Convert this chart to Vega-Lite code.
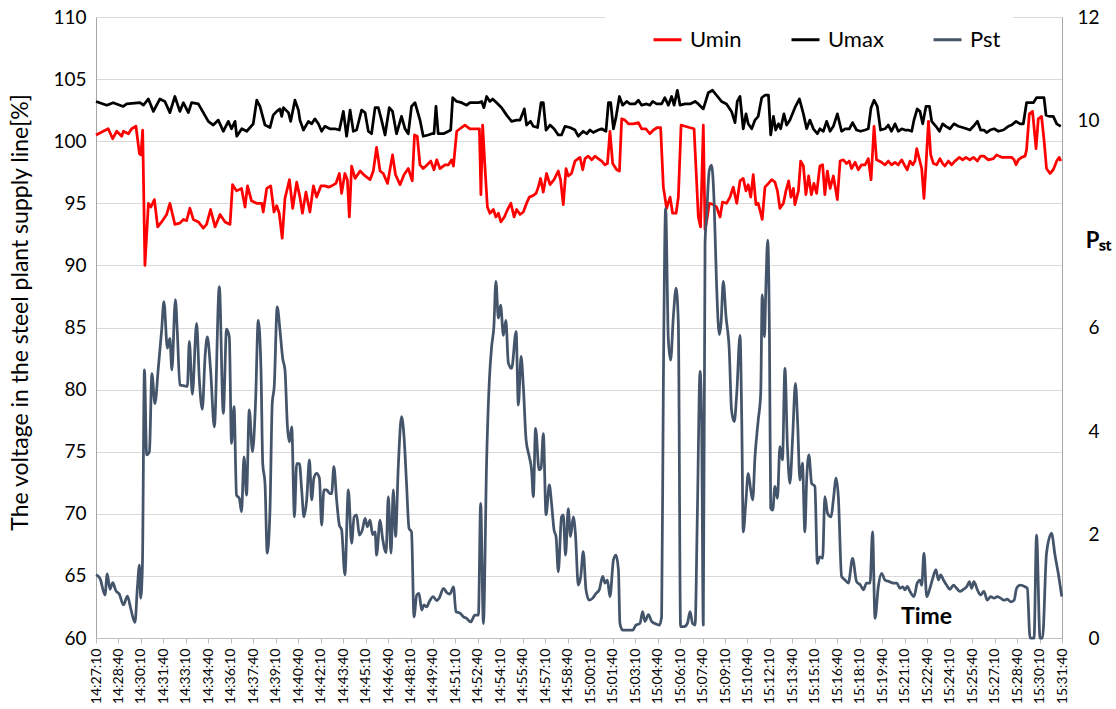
{
"$schema":"https://vega.github.io/schema/vega-lite/v6.json",
"width":966,"height":621,
"autosize":{"type":"none"},
"padding":{"left":96,"top":17,"right":54,"bottom":71},
"background":"white",
"config":{"font":"Lato","view":{"stroke":null},"axis":{"labelColor":"#000000","titleColor":"#000000","labelFont":"Lato","titleFont":"Lato"},"axisX":{"labelOverlap":false,"labelSeparation":0,"labelBound":false}},
"datasets":{
"umax":[{"t":0,"v":103.2},{"t":43,"v":102.9},{"t":69,"v":103.1},{"t":109,"v":102.8},{"t":123,"v":103.0},{"t":176,"v":103.1},{"t":190,"v":102.9},{"t":210,"v":103.4},{"t":230,"v":102.4},{"t":256,"v":103.4},{"t":276,"v":103.2},{"t":296,"v":102.3},{"t":316,"v":103.6},{"t":336,"v":102.4},{"t":350,"v":103.1},{"t":370,"v":102.3},{"t":383,"v":103.1},{"t":410,"v":103.0},{"t":430,"v":102.3},{"t":450,"v":101.6},{"t":470,"v":101.3},{"t":490,"v":101.7},{"t":510,"v":100.8},{"t":530,"v":101.6},{"t":543,"v":101.0},{"t":557,"v":101.6},{"t":564,"v":100.4},{"t":584,"v":101.0},{"t":604,"v":100.8},{"t":630,"v":101.4},{"t":644,"v":103.3},{"t":657,"v":102.8},{"t":677,"v":101.3},{"t":697,"v":101.1},{"t":710,"v":102.1},{"t":724,"v":102.4},{"t":737,"v":102.6},{"t":744,"v":102.0},{"t":751,"v":102.7},{"t":771,"v":102.3},{"t":780,"v":101.6},{"t":797,"v":103.3},{"t":811,"v":102.5},{"t":817,"v":101.7},{"t":831,"v":100.9},{"t":851,"v":101.6},{"t":864,"v":101.4},{"t":877,"v":101.8},{"t":891,"v":101.4},{"t":904,"v":100.8},{"t":917,"v":101.2},{"t":937,"v":101.0},{"t":957,"v":101.0},{"t":975,"v":100.9},{"t":991,"v":102.4},{"t":1004,"v":100.4},{"t":1018,"v":102.5},{"t":1031,"v":100.8},{"t":1044,"v":100.9},{"t":1064,"v":102.5},{"t":1078,"v":102.3},{"t":1091,"v":100.8},{"t":1104,"v":100.6},{"t":1118,"v":102.7},{"t":1131,"v":102.7},{"t":1144,"v":101.7},{"t":1158,"v":100.5},{"t":1175,"v":102.7},{"t":1188,"v":102.4},{"t":1204,"v":100.6},{"t":1224,"v":102.0},{"t":1238,"v":101.0},{"t":1251,"v":100.6},{"t":1264,"v":102.8},{"t":1278,"v":103.1},{"t":1298,"v":101.7},{"t":1311,"v":100.4},{"t":1331,"v":100.5},{"t":1345,"v":100.6},{"t":1354,"v":100.6},{"t":1362,"v":102.8},{"t":1371,"v":100.6},{"t":1392,"v":100.6},{"t":1412,"v":100.8},{"t":1421,"v":100.9},{"t":1429,"v":103.5},{"t":1445,"v":103.2},{"t":1465,"v":103.1},{"t":1485,"v":102.9},{"t":1498,"v":103.1},{"t":1518,"v":103.1},{"t":1532,"v":103.1},{"t":1545,"v":103.2},{"t":1554,"v":102.7},{"t":1565,"v":103.6},{"t":1578,"v":103.2},{"t":1589,"v":103.4},{"t":1605,"v":103.1},{"t":1625,"v":102.7},{"t":1645,"v":102.1},{"t":1665,"v":101.6},{"t":1685,"v":101.7},{"t":1699,"v":101.7},{"t":1716,"v":102.6},{"t":1725,"v":101.3},{"t":1741,"v":101.6},{"t":1752,"v":101.2},{"t":1769,"v":101.1},{"t":1783,"v":103.1},{"t":1792,"v":103.1},{"t":1803,"v":100.9},{"t":1819,"v":101.3},{"t":1835,"v":101.0},{"t":1852,"v":100.5},{"t":1865,"v":100.5},{"t":1879,"v":101.2},{"t":1899,"v":101.1},{"t":1919,"v":100.9},{"t":1932,"v":100.4},{"t":1952,"v":100.8},{"t":1966,"v":100.6},{"t":1979,"v":100.9},{"t":1992,"v":100.7},{"t":2012,"v":100.9},{"t":2026,"v":101.0},{"t":2043,"v":100.8},{"t":2053,"v":103.1},{"t":2062,"v":103.1},{"t":2073,"v":101.0},{"t":2083,"v":101.9},{"t":2097,"v":103.6},{"t":2110,"v":102.9},{"t":2126,"v":103.2},{"t":2139,"v":103.0},{"t":2159,"v":103.0},{"t":2173,"v":103.3},{"t":2186,"v":102.9},{"t":2206,"v":103.0},{"t":2219,"v":102.9},{"t":2230,"v":103.2},{"t":2246,"v":103.0},{"t":2266,"v":103.0},{"t":2279,"v":103.5},{"t":2293,"v":102.9},{"t":2306,"v":103.6},{"t":2316,"v":102.9},{"t":2329,"v":104.1},{"t":2340,"v":102.9},{"t":2360,"v":103.0},{"t":2380,"v":103.0},{"t":2400,"v":103.2},{"t":2413,"v":103.0},{"t":2433,"v":102.6},{"t":2453,"v":103.9},{"t":2470,"v":104.1},{"t":2486,"v":103.7},{"t":2506,"v":103.2},{"t":2526,"v":103.0},{"t":2546,"v":102.4},{"t":2560,"v":101.5},{"t":2569,"v":103.2},{"t":2580,"v":103.6},{"t":2593,"v":101.0},{"t":2604,"v":102.2},{"t":2613,"v":101.4},{"t":2627,"v":101.0},{"t":2640,"v":101.7},{"t":2653,"v":102.0},{"t":2667,"v":103.5},{"t":2680,"v":103.7},{"t":2694,"v":103.7},{"t":2703,"v":100.5},{"t":2714,"v":102.0},{"t":2723,"v":100.9},{"t":2734,"v":101.4},{"t":2743,"v":101.0},{"t":2756,"v":102.2},{"t":2767,"v":101.3},{"t":2780,"v":101.7},{"t":2800,"v":102.7},{"t":2818,"v":103.4},{"t":2834,"v":102.2},{"t":2847,"v":101.0},{"t":2860,"v":101.7},{"t":2874,"v":101.0},{"t":2890,"v":100.6},{"t":2900,"v":101.0},{"t":2914,"v":100.8},{"t":2927,"v":101.6},{"t":2941,"v":100.8},{"t":2954,"v":101.2},{"t":2970,"v":102.2},{"t":2987,"v":100.8},{"t":3001,"v":101.0},{"t":3018,"v":101.0},{"t":3031,"v":101.5},{"t":3047,"v":100.9},{"t":3063,"v":100.8},{"t":3081,"v":100.9},{"t":3094,"v":101.0},{"t":3105,"v":102.7},{"t":3117,"v":103.3},{"t":3130,"v":102.8},{"t":3143,"v":100.9},{"t":3161,"v":101.0},{"t":3174,"v":101.3},{"t":3187,"v":100.8},{"t":3201,"v":101.4},{"t":3214,"v":100.8},{"t":3228,"v":101.0},{"t":3241,"v":100.9},{"t":3254,"v":100.9},{"t":3268,"v":100.8},{"t":3277,"v":101.7},{"t":3290,"v":102.6},{"t":3301,"v":102.4},{"t":3312,"v":101.4},{"t":3325,"v":102.8},{"t":3339,"v":102.8},{"t":3348,"v":101.6},{"t":3365,"v":101.2},{"t":3379,"v":100.8},{"t":3392,"v":101.4},{"t":3405,"v":101.2},{"t":3421,"v":101.0},{"t":3437,"v":101.4},{"t":3455,"v":101.2},{"t":3472,"v":101.1},{"t":3488,"v":101.0},{"t":3501,"v":100.9},{"t":3515,"v":101.2},{"t":3531,"v":101.6},{"t":3544,"v":100.9},{"t":3557,"v":100.9},{"t":3568,"v":100.7},{"t":3582,"v":100.9},{"t":3598,"v":101.0},{"t":3615,"v":100.8},{"t":3635,"v":100.9},{"t":3655,"v":101.2},{"t":3668,"v":101.3},{"t":3686,"v":101.6},{"t":3702,"v":101.4},{"t":3715,"v":101.4},{"t":3728,"v":103.1},{"t":3742,"v":103.1},{"t":3755,"v":103.1},{"t":3768,"v":103.5},{"t":3784,"v":103.5},{"t":3798,"v":103.5},{"t":3806,"v":102.1},{"t":3822,"v":102.0},{"t":3835,"v":102.0},{"t":3849,"v":101.4},{"t":3865,"v":101.2}],
"umin":[{"t":0,"v":100.5},{"t":29,"v":100.8},{"t":49,"v":101.0},{"t":67,"v":100.2},{"t":83,"v":100.8},{"t":103,"v":100.4},{"t":110,"v":100.8},{"t":130,"v":100.6},{"t":143,"v":101.0},{"t":160,"v":101.2},{"t":174,"v":99.0},{"t":180,"v":98.9},{"t":187,"v":100.9},{"t":196,"v":90.0},{"t":210,"v":95.0},{"t":220,"v":94.7},{"t":234,"v":95.3},{"t":247,"v":93.1},{"t":263,"v":93.5},{"t":283,"v":94.1},{"t":296,"v":95.0},{"t":316,"v":93.3},{"t":336,"v":93.4},{"t":350,"v":93.7},{"t":363,"v":93.6},{"t":376,"v":94.6},{"t":390,"v":93.7},{"t":410,"v":93.5},{"t":430,"v":93.0},{"t":443,"v":93.3},{"t":459,"v":94.5},{"t":477,"v":93.1},{"t":497,"v":94.1},{"t":517,"v":93.5},{"t":537,"v":93.3},{"t":547,"v":96.5},{"t":563,"v":96.0},{"t":583,"v":96.2},{"t":597,"v":94.7},{"t":607,"v":96.4},{"t":623,"v":95.2},{"t":643,"v":95.0},{"t":664,"v":95.0},{"t":670,"v":94.3},{"t":684,"v":96.2},{"t":700,"v":96.4},{"t":713,"v":94.3},{"t":724,"v":94.8},{"t":734,"v":94.2},{"t":746,"v":92.2},{"t":757,"v":95.4},{"t":775,"v":96.9},{"t":788,"v":94.6},{"t":804,"v":96.7},{"t":817,"v":95.5},{"t":827,"v":94.2},{"t":841,"v":95.9},{"t":857,"v":94.3},{"t":871,"v":96.4},{"t":884,"v":95.5},{"t":901,"v":96.4},{"t":917,"v":96.4},{"t":931,"v":96.3},{"t":944,"v":96.4},{"t":961,"v":96.6},{"t":975,"v":97.4},{"t":984,"v":95.8},{"t":997,"v":97.4},{"t":1007,"v":96.9},{"t":1015,"v":93.9},{"t":1024,"v":98.0},{"t":1038,"v":97.0},{"t":1058,"v":97.6},{"t":1078,"v":97.2},{"t":1098,"v":96.9},{"t":1111,"v":97.6},{"t":1124,"v":99.5},{"t":1138,"v":97.6},{"t":1151,"v":97.4},{"t":1168,"v":96.6},{"t":1188,"v":98.9},{"t":1200,"v":97.3},{"t":1218,"v":96.5},{"t":1234,"v":97.3},{"t":1251,"v":97.8},{"t":1267,"v":96.8},{"t":1276,"v":100.5},{"t":1287,"v":100.4},{"t":1298,"v":98.1},{"t":1311,"v":97.8},{"t":1327,"v":98.1},{"t":1341,"v":98.4},{"t":1354,"v":97.7},{"t":1365,"v":98.5},{"t":1378,"v":97.8},{"t":1398,"v":98.1},{"t":1412,"v":98.1},{"t":1425,"v":98.5},{"t":1432,"v":98.0},{"t":1445,"v":100.8},{"t":1458,"v":101.0},{"t":1478,"v":101.3},{"t":1498,"v":101.0},{"t":1518,"v":101.0},{"t":1536,"v":101.0},{"t":1542,"v":95.7},{"t":1549,"v":101.3},{"t":1558,"v":98.0},{"t":1568,"v":94.7},{"t":1578,"v":94.2},{"t":1592,"v":94.5},{"t":1602,"v":93.9},{"t":1612,"v":94.2},{"t":1622,"v":93.5},{"t":1636,"v":93.9},{"t":1649,"v":94.5},{"t":1662,"v":95.0},{"t":1675,"v":93.9},{"t":1685,"v":94.5},{"t":1699,"v":94.1},{"t":1712,"v":94.3},{"t":1725,"v":95.0},{"t":1736,"v":95.5},{"t":1749,"v":95.6},{"t":1763,"v":95.8},{"t":1772,"v":96.3},{"t":1781,"v":97.0},{"t":1792,"v":95.9},{"t":1805,"v":97.4},{"t":1819,"v":96.5},{"t":1835,"v":96.9},{"t":1852,"v":97.6},{"t":1861,"v":96.9},{"t":1872,"v":94.9},{"t":1883,"v":97.8},{"t":1892,"v":97.2},{"t":1905,"v":97.4},{"t":1919,"v":98.4},{"t":1932,"v":98.6},{"t":1939,"v":98.7},{"t":1950,"v":97.7},{"t":1959,"v":98.6},{"t":1972,"v":98.8},{"t":1986,"v":98.5},{"t":1999,"v":98.8},{"t":2012,"v":98.6},{"t":2026,"v":98.4},{"t":2039,"v":98.1},{"t":2049,"v":98.2},{"t":2059,"v":100.8},{"t":2070,"v":98.2},{"t":2086,"v":97.7},{"t":2097,"v":97.6},{"t":2106,"v":101.8},{"t":2119,"v":101.7},{"t":2133,"v":101.4},{"t":2153,"v":101.4},{"t":2173,"v":101.5},{"t":2186,"v":101.0},{"t":2203,"v":101.0},{"t":2219,"v":100.6},{"t":2233,"v":100.9},{"t":2249,"v":101.1},{"t":2262,"v":101.1},{"t":2273,"v":96.3},{"t":2286,"v":94.6},{"t":2300,"v":95.5},{"t":2310,"v":94.2},{"t":2324,"v":94.2},{"t":2333,"v":95.5},{"t":2344,"v":101.3},{"t":2360,"v":101.2},{"t":2377,"v":101.1},{"t":2396,"v":101.0},{"t":2404,"v":97.7},{"t":2413,"v":93.9},{"t":2422,"v":93.1},{"t":2433,"v":101.3},{"t":2440,"v":92.9},{"t":2449,"v":93.9},{"t":2457,"v":95.0},{"t":2473,"v":94.9},{"t":2486,"v":94.7},{"t":2500,"v":93.9},{"t":2510,"v":95.1},{"t":2526,"v":95.0},{"t":2540,"v":95.5},{"t":2553,"v":96.3},{"t":2567,"v":95.0},{"t":2580,"v":96.8},{"t":2593,"v":97.0},{"t":2604,"v":96.0},{"t":2613,"v":96.5},{"t":2623,"v":95.5},{"t":2633,"v":97.3},{"t":2644,"v":94.9},{"t":2653,"v":95.0},{"t":2663,"v":94.2},{"t":2669,"v":93.7},{"t":2680,"v":96.3},{"t":2694,"v":96.6},{"t":2707,"v":96.9},{"t":2720,"v":96.7},{"t":2730,"v":96.0},{"t":2740,"v":94.6},{"t":2754,"v":95.0},{"t":2764,"v":96.0},{"t":2775,"v":96.8},{"t":2784,"v":95.5},{"t":2794,"v":96.2},{"t":2800,"v":94.9},{"t":2814,"v":96.0},{"t":2823,"v":98.4},{"t":2834,"v":98.0},{"t":2844,"v":95.7},{"t":2855,"v":97.2},{"t":2866,"v":95.7},{"t":2876,"v":96.6},{"t":2887,"v":95.8},{"t":2900,"v":98.0},{"t":2911,"v":98.1},{"t":2920,"v":95.7},{"t":2930,"v":97.6},{"t":2941,"v":96.2},{"t":2954,"v":97.2},{"t":2970,"v":95.3},{"t":2981,"v":98.4},{"t":2994,"v":98.5},{"t":3007,"v":98.2},{"t":3018,"v":98.4},{"t":3027,"v":97.8},{"t":3041,"v":98.3},{"t":3054,"v":97.7},{"t":3067,"v":98.1},{"t":3081,"v":98.1},{"t":3094,"v":98.6},{"t":3105,"v":96.9},{"t":3117,"v":101.2},{"t":3127,"v":98.5},{"t":3147,"v":98.3},{"t":3161,"v":98.1},{"t":3174,"v":98.4},{"t":3187,"v":98.1},{"t":3201,"v":98.3},{"t":3214,"v":98.1},{"t":3228,"v":98.5},{"t":3241,"v":98.0},{"t":3250,"v":97.7},{"t":3261,"v":98.4},{"t":3272,"v":98.1},{"t":3281,"v":98.4},{"t":3288,"v":99.4},{"t":3298,"v":98.6},{"t":3308,"v":97.8},{"t":3317,"v":95.4},{"t":3325,"v":98.0},{"t":3335,"v":101.6},{"t":3344,"v":98.9},{"t":3355,"v":98.2},{"t":3368,"v":98.1},{"t":3381,"v":98.6},{"t":3392,"v":98.2},{"t":3401,"v":98.0},{"t":3415,"v":98.4},{"t":3428,"v":98.1},{"t":3441,"v":98.4},{"t":3459,"v":98.7},{"t":3472,"v":98.5},{"t":3485,"v":98.7},{"t":3501,"v":98.5},{"t":3515,"v":98.7},{"t":3531,"v":98.4},{"t":3544,"v":98.8},{"t":3557,"v":98.8},{"t":3575,"v":98.5},{"t":3595,"v":98.6},{"t":3608,"v":98.9},{"t":3628,"v":98.7},{"t":3648,"v":98.7},{"t":3668,"v":98.7},{"t":3678,"v":98.5},{"t":3686,"v":98.1},{"t":3695,"v":98.5},{"t":3708,"v":98.7},{"t":3722,"v":98.8},{"t":3728,"v":99.3},{"t":3739,"v":102.2},{"t":3752,"v":102.4},{"t":3766,"v":99.4},{"t":3775,"v":101.8},{"t":3788,"v":102.0},{"t":3798,"v":100.1},{"t":3808,"v":97.8},{"t":3822,"v":97.4},{"t":3835,"v":97.7},{"t":3849,"v":98.4},{"t":3859,"v":98.7},{"t":3865,"v":98.4}],
"pst":[{"t":0,"v":1.22},{"t":16,"v":1.15},{"t":36,"v":0.83},{"t":45,"v":1.24},{"t":56,"v":0.94},{"t":67,"v":1.07},{"t":80,"v":0.91},{"t":93,"v":0.85},{"t":110,"v":0.64},{"t":126,"v":0.81},{"t":139,"v":0.57},{"t":156,"v":0.3},{"t":166,"v":0.99},{"t":174,"v":1.41},{"t":179,"v":0.77},{"t":186,"v":1.41},{"t":194,"v":5.18},{"t":203,"v":3.54},{"t":214,"v":3.6},{"t":224,"v":5.11},{"t":236,"v":4.53},{"t":250,"v":5.24},{"t":263,"v":5.95},{"t":272,"v":6.5},{"t":286,"v":5.6},{"t":296,"v":5.79},{"t":304,"v":5.18},{"t":318,"v":6.54},{"t":326,"v":5.89},{"t":336,"v":4.89},{"t":356,"v":4.87},{"t":366,"v":4.86},{"t":374,"v":5.73},{"t":386,"v":4.71},{"t":403,"v":6.08},{"t":414,"v":4.99},{"t":426,"v":4.42},{"t":437,"v":5.44},{"t":446,"v":5.82},{"t":459,"v":5.18},{"t":474,"v":4.08},{"t":494,"v":6.79},{"t":510,"v":4.34},{"t":523,"v":5.97},{"t":534,"v":5.82},{"t":543,"v":3.76},{"t":553,"v":4.47},{"t":563,"v":2.76},{"t":574,"v":2.7},{"t":583,"v":2.44},{"t":593,"v":3.5},{"t":603,"v":2.76},{"t":614,"v":4.41},{"t":627,"v":3.6},{"t":639,"v":4.53},{"t":650,"v":6.14},{"t":661,"v":5.18},{"t":668,"v":3.37},{"t":677,"v":2.99},{"t":686,"v":1.64},{"t":697,"v":2.47},{"t":706,"v":4.53},{"t":714,"v":4.86},{"t":726,"v":6.4},{"t":737,"v":5.95},{"t":748,"v":5.4},{"t":757,"v":5.18},{"t":767,"v":4.08},{"t":775,"v":3.79},{"t":784,"v":4.08},{"t":795,"v":2.34},{"t":804,"v":3.37},{"t":815,"v":3.37},{"t":824,"v":2.86},{"t":833,"v":2.34},{"t":844,"v":2.67},{"t":855,"v":3.44},{"t":864,"v":2.67},{"t":873,"v":3.09},{"t":884,"v":3.18},{"t":895,"v":3.09},{"t":904,"v":2.18},{"t":913,"v":2.86},{"t":924,"v":2.86},{"t":937,"v":2.79},{"t":944,"v":2.79},{"t":953,"v":3.31},{"t":964,"v":2.67},{"t":975,"v":2.18},{"t":984,"v":2.09},{"t":997,"v":1.22},{"t":1011,"v":2.86},{"t":1024,"v":1.83},{"t":1034,"v":2.34},{"t":1044,"v":2.38},{"t":1055,"v":1.99},{"t":1067,"v":2.09},{"t":1078,"v":2.31},{"t":1087,"v":2.15},{"t":1098,"v":2.28},{"t":1108,"v":2.0},{"t":1118,"v":2.05},{"t":1124,"v":1.6},{"t":1138,"v":2.28},{"t":1148,"v":1.93},{"t":1162,"v":1.65},{"t":1171,"v":2.73},{"t":1182,"v":1.64},{"t":1191,"v":2.86},{"t":1200,"v":1.96},{"t":1211,"v":3.31},{"t":1224,"v":4.28},{"t":1234,"v":3.89},{"t":1244,"v":2.99},{"t":1254,"v":2.12},{"t":1264,"v":2.05},{"t":1274,"v":0.41},{"t":1285,"v":0.83},{"t":1294,"v":0.86},{"t":1305,"v":0.54},{"t":1314,"v":0.64},{"t":1325,"v":0.6},{"t":1335,"v":0.7},{"t":1351,"v":0.8},{"t":1365,"v":0.72},{"t":1375,"v":0.77},{"t":1392,"v":0.96},{"t":1405,"v":0.88},{"t":1418,"v":0.85},{"t":1432,"v":0.99},{"t":1442,"v":0.51},{"t":1458,"v":0.48},{"t":1472,"v":0.41},{"t":1485,"v":0.38},{"t":1501,"v":0.31},{"t":1518,"v":0.44},{"t":1532,"v":0.44},{"t":1541,"v":2.6},{"t":1552,"v":0.28},{"t":1565,"v":3.44},{"t":1576,"v":4.99},{"t":1585,"v":5.63},{"t":1594,"v":6.02},{"t":1602,"v":6.89},{"t":1612,"v":6.18},{"t":1621,"v":6.43},{"t":1632,"v":5.85},{"t":1642,"v":6.14},{"t":1652,"v":5.31},{"t":1665,"v":5.21},{"t":1683,"v":5.92},{"t":1692,"v":4.5},{"t":1703,"v":5.44},{"t":1712,"v":4.86},{"t":1723,"v":3.83},{"t":1736,"v":3.5},{"t":1745,"v":3.25},{"t":1752,"v":2.73},{"t":1761,"v":4.05},{"t":1775,"v":3.25},{"t":1783,"v":3.28},{"t":1792,"v":3.95},{"t":1803,"v":2.38},{"t":1816,"v":2.96},{"t":1825,"v":2.6},{"t":1835,"v":2.09},{"t":1843,"v":1.96},{"t":1852,"v":1.28},{"t":1865,"v":2.34},{"t":1872,"v":2.38},{"t":1881,"v":1.6},{"t":1892,"v":2.5},{"t":1901,"v":1.96},{"t":1912,"v":2.34},{"t":1921,"v":1.99},{"t":1932,"v":1.02},{"t":1942,"v":1.19},{"t":1952,"v":1.67},{"t":1963,"v":0.93},{"t":1976,"v":0.73},{"t":1990,"v":0.77},{"t":2003,"v":0.86},{"t":2016,"v":0.93},{"t":2030,"v":1.19},{"t":2039,"v":1.06},{"t":2049,"v":1.12},{"t":2059,"v":0.8},{"t":2073,"v":1.51},{"t":2083,"v":1.6},{"t":2093,"v":1.31},{"t":2099,"v":0.28},{"t":2110,"v":0.15},{"t":2123,"v":0.15},{"t":2137,"v":0.15},{"t":2150,"v":0.15},{"t":2163,"v":0.25},{"t":2179,"v":0.28},{"t":2190,"v":0.51},{"t":2199,"v":0.32},{"t":2213,"v":0.45},{"t":2226,"v":0.32},{"t":2239,"v":0.28},{"t":2257,"v":0.25},{"t":2266,"v":0.41},{"t":2273,"v":4.92},{"t":2282,"v":8.3},{"t":2293,"v":5.76},{"t":2302,"v":5.37},{"t":2313,"v":6.21},{"t":2324,"v":6.76},{"t":2333,"v":6.08},{"t":2342,"v":0.22},{"t":2356,"v":0.22},{"t":2369,"v":0.28},{"t":2380,"v":0.51},{"t":2390,"v":0.28},{"t":2400,"v":0.25},{"t":2409,"v":2.35},{"t":2420,"v":5.15},{"t":2426,"v":4.28},{"t":2433,"v":0.25},{"t":2440,"v":7.63},{"t":2446,"v":8.14},{"t":2457,"v":9.04},{"t":2466,"v":9.14},{"t":2476,"v":8.46},{"t":2486,"v":6.85},{"t":2497,"v":5.86},{"t":2504,"v":6.08},{"t":2513,"v":6.89},{"t":2524,"v":6.21},{"t":2537,"v":5.56},{"t":2546,"v":4.41},{"t":2557,"v":4.18},{"t":2567,"v":4.73},{"t":2580,"v":5.85},{"t":2587,"v":4.21},{"t":2593,"v":2.05},{"t":2603,"v":2.6},{"t":2613,"v":3.18},{"t":2623,"v":2.86},{"t":2631,"v":2.67},{"t":2640,"v":3.5},{"t":2653,"v":4.21},{"t":2663,"v":4.73},{"t":2669,"v":6.63},{"t":2678,"v":5.82},{"t":2683,"v":6.66},{"t":2691,"v":7.69},{"t":2698,"v":5.82},{"t":2703,"v":2.51},{"t":2711,"v":2.47},{"t":2720,"v":2.93},{"t":2730,"v":2.7},{"t":2740,"v":3.7},{"t":2750,"v":3.44},{"t":2760,"v":5.21},{"t":2770,"v":3.7},{"t":2780,"v":2.99},{"t":2791,"v":3.89},{"t":2802,"v":4.92},{"t":2811,"v":4.15},{"t":2820,"v":3.05},{"t":2830,"v":3.38},{"t":2840,"v":2.05},{"t":2847,"v":3.05},{"t":2856,"v":3.54},{"t":2867,"v":2.99},{"t":2880,"v":2.93},{"t":2890,"v":1.44},{"t":2900,"v":1.57},{"t":2911,"v":1.54},{"t":2920,"v":2.73},{"t":2931,"v":2.41},{"t":2945,"v":2.34},{"t":2954,"v":2.67},{"t":2965,"v":3.09},{"t":2974,"v":2.73},{"t":2987,"v":1.19},{"t":3001,"v":1.12},{"t":3014,"v":1.06},{"t":3031,"v":1.54},{"t":3047,"v":1.09},{"t":3063,"v":1.02},{"t":3074,"v":0.93},{"t":3087,"v":1.06},{"t":3101,"v":1.06},{"t":3111,"v":2.05},{"t":3121,"v":0.38},{"t":3134,"v":0.99},{"t":3147,"v":1.25},{"t":3161,"v":1.12},{"t":3178,"v":1.09},{"t":3194,"v":1.06},{"t":3208,"v":1.06},{"t":3221,"v":0.96},{"t":3232,"v":0.99},{"t":3241,"v":0.93},{"t":3250,"v":1.0},{"t":3261,"v":0.9},{"t":3277,"v":0.8},{"t":3290,"v":1.06},{"t":3301,"v":1.12},{"t":3308,"v":1.02},{"t":3317,"v":1.64},{"t":3328,"v":0.8},{"t":3339,"v":0.93},{"t":3352,"v":1.15},{"t":3365,"v":1.32},{"t":3375,"v":1.12},{"t":3384,"v":1.22},{"t":3395,"v":1.12},{"t":3408,"v":1.02},{"t":3421,"v":0.94},{"t":3435,"v":1.02},{"t":3448,"v":0.96},{"t":3461,"v":0.9},{"t":3475,"v":0.94},{"t":3488,"v":0.99},{"t":3499,"v":1.09},{"t":3508,"v":0.96},{"t":3517,"v":1.09},{"t":3531,"v":0.93},{"t":3544,"v":0.83},{"t":3557,"v":0.9},{"t":3571,"v":0.73},{"t":3584,"v":0.8},{"t":3598,"v":0.77},{"t":3611,"v":0.8},{"t":3624,"v":0.77},{"t":3638,"v":0.73},{"t":3651,"v":0.75},{"t":3664,"v":0.7},{"t":3678,"v":0.73},{"t":3688,"v":0.96},{"t":3702,"v":1.02},{"t":3722,"v":0.99},{"t":3731,"v":0.96},{"t":3742,"v":0.0},{"t":3758,"v":0.0},{"t":3768,"v":1.99},{"t":3782,"v":0.0},{"t":3792,"v":0.0},{"t":3808,"v":1.64},{"t":3828,"v":2.02},{"t":3842,"v":1.6},{"t":3855,"v":1.25},{"t":3869,"v":0.8}]
},
"layer":[
{"layer":[
{"data":{"name":"umin"},"mark":{"type":"line","strokeWidth":2.75,"strokeJoin":"round"},
"encoding":{
"x":{"field":"t","type":"quantitative","scale":{"domain":[0,3870],"nice":false,"zero":false},
"axis":{"values":[0,90,180,270,360,450,540,630,720,810,900,990,1080,1170,1260,1350,1440,1530,1620,1710,1800,1890,1980,2070,2160,2250,2340,2430,2520,2610,2700,2790,2880,2970,3060,3150,3240,3330,3420,3510,3600,3690,3780,3870],"tickCount":100,
"labelExpr":"timeFormat(datetime(2020,0,1,14,27,10+datum.value),'%H:%M:%S')","labelAngle":-90,"labelFontSize":14,"labelPadding":5,"labelOverlap":false,"labelFlush":false,"grid":false,"domainColor":"#BFBFBF","tickColor":"#BFBFBF","tickSize":5,
"title":"Time","titleFontSize":23,"titleFontWeight":"bold","titleX":830,"titleY":-22,"titleAlign":"center","titleBaseline":"middle","titleAngle":0}},
"y":{"field":"v","type":"quantitative","scale":{"domain":[60,110],"nice":false,"zero":false},
"axis":{"values":[60,65,70,75,80,85,90,95,100,105,110],"format":"d","grid":true,"gridColor":"#D9D9D9","gridWidth":1,"domainColor":"#A6A6A6","ticks":false,"tickSize":0,"labelPadding":10,"labelFontSize":19,
"title":"The voltage in the steel plant supply line[%]","titleFontSize":23,"titleFontWeight":"normal","titleX":-76,"titleY":295,"titleAngle":-90,"titleAlign":"center","titleBaseline":"middle"}},
"color":{"datum":"Umin","type":"nominal","scale":{"domain":["Umin","Umax","Pst"],"range":["#FF0000","#000000","#44546A"]},
"legend":{"orient":"none","legendX":509,"legendY":-5,"direction":"horizontal","columns":3,"title":" ","titleOrient":"left","titlePadding":35,"fillColor":"white","padding":12,"symbolType":"stroke","symbolSize":784,"symbolStrokeWidth":3,"labelFontSize":22,"labelOffset":7,"columnPadding":43,"gridAlign":"each","labelColor":"#000000"}}}},
{"data":{"name":"umax"},"mark":{"type":"line","strokeWidth":2.75,"strokeJoin":"round"},
"encoding":{
"x":{"field":"t","type":"quantitative"},
"y":{"field":"v","type":"quantitative"},
"color":{"datum":"Umax","type":"nominal"}}}
]},
{"data":{"name":"pst"},"mark":{"type":"line","strokeWidth":2.75,"interpolate":"monotone","strokeJoin":"round"},
"encoding":{
"x":{"field":"t","type":"quantitative"},
"y":{"field":"v","type":"quantitative","scale":{"domain":[0,12],"nice":false,"zero":true},
"axis":{"orient":"right","values":[0,2,4,6,10,12],"format":"d","grid":false,"ticks":false,"tickSize":0,"domainColor":"#A6A6A6","labelAlign":"right","labelPadding":37,"labelFontSize":19,
"title":"Pₛₜ","titleFontSize":22,"titleFontWeight":"bold","titleX":36,"titleY":223,"titleAngle":0,"titleAlign":"center","titleBaseline":"middle"}},
"color":{"datum":"Pst","type":"nominal"}}}
],
"resolve":{"scale":{"y":"independent"}}
}
